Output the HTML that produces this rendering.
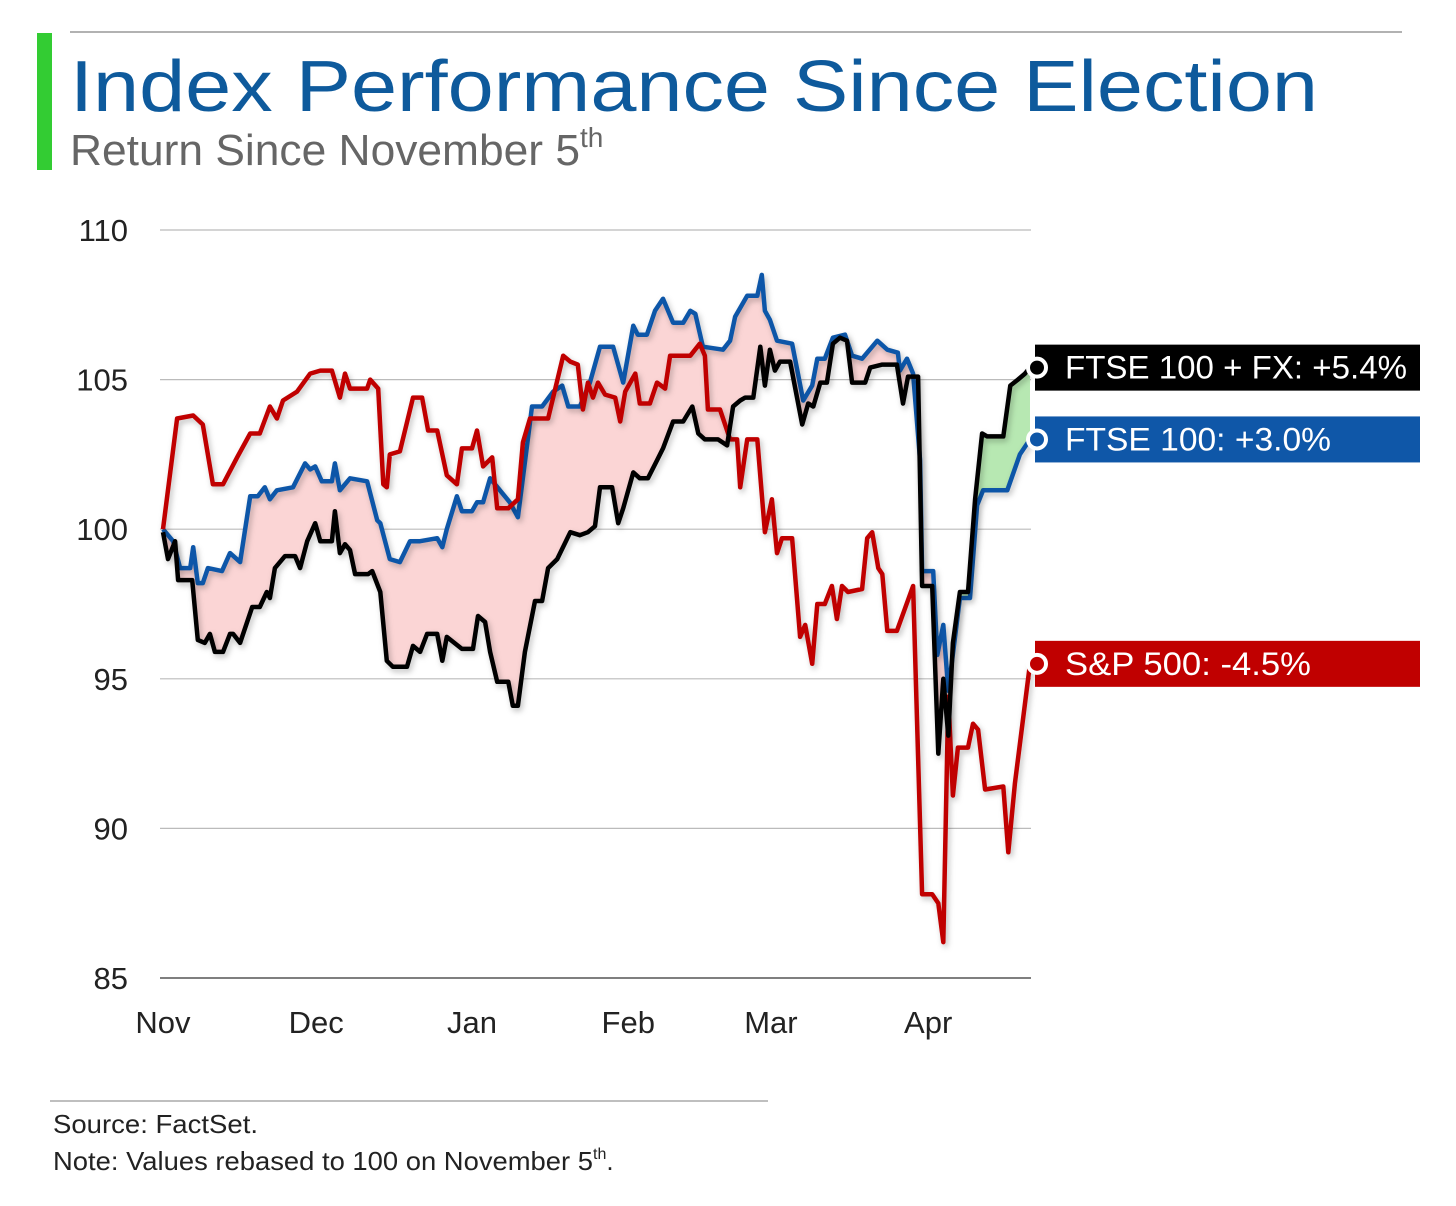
<!DOCTYPE html>
<html><head><meta charset="utf-8"><style>
html,body{margin:0;padding:0;background:#fff;width:1456px;height:1206px;overflow:hidden}
svg{display:block;font-family:"Liberation Sans",sans-serif}
</style></head><body>
<svg id="chart" width="1456" height="1206">
<defs>
<filter id="sh" x="-5%" y="-5%" width="110%" height="110%"><feDropShadow dx="2" dy="3" stdDeviation="3" flood-color="#000" flood-opacity="0.25"/></filter>
</defs>
<line x1="70" y1="32" x2="1402" y2="32" stroke="#999" stroke-width="1.5"/>
<rect x="37" y="33" width="15" height="137" fill="#33cc33"/>
<text x="70" y="111" font-size="72" fill="#0e5a9c" textLength="1248" lengthAdjust="spacingAndGlyphs">Index Performance Since Election</text>
<text x="70" y="165" font-size="44" fill="#666"><tspan textLength="510" lengthAdjust="spacingAndGlyphs">Return Since November 5</tspan><tspan font-size="28" dy="-18">th</tspan></text>
<g id="grid"></g>
<g id="fills"></g>
<g id="lines"></g>
<g id="labels"></g>
<line x1="50" y1="1101" x2="768" y2="1101" stroke="#aaa" stroke-width="1.5"/>
<text x="53" y="1133" font-size="26" fill="#222" textLength="205" lengthAdjust="spacingAndGlyphs">Source: FactSet.</text>
<text x="53" y="1170" font-size="26" fill="#222"><tspan textLength="540" lengthAdjust="spacingAndGlyphs">Note: Values rebased to 100 on November 5</tspan><tspan font-size="16" dy="-11">th</tspan><tspan dy="11">.</tspan></text>
</svg>
<script>
const yTicks=[85,90,95,100,105,110];
const monthLabels=["Nov","Dec","Jan","Feb","Mar","Apr"];
const monthDays=[0,30.4,61.3,92.3,120.6,151.8];
const spDays=[0,2.8,6,7.9,9.9,11.9,14.7,17.3,19.2,21.2,22.6,23.8,26.6,29.2,31.2,33.5,35.1,36.1,37.1,40.5,41.1,42.7,43.7,44.4,45,47,49.6,51.4,52.6,54.4,56.3,58.3,59.3,61.3,62.3,63.5,65.3,66.3,68.5,70.4,71.4,72.8,76.4,79.4,80.8,82.3,83.3,84.3,85.3,86.3,87.7,89.7,90.7,91.7,93.7,94.6,96.6,98,99.6,100.6,104.6,106.5,107.5,108.1,110.5,112.5,113.9,114.5,115.9,117.9,119.4,120.8,121.8,122.8,124.8,126.4,127.4,128.8,129.8,131.3,132.7,133.7,134.7,135.9,138.7,139.7,140.7,141.9,142.7,143.7,145.6,148.8,150.6,152.6,153.8,154.8,155.8,156.7,157.7,159.7,160.7,161.7,163.1,166.7,167.7,169,172];
const spValues=[100,103.7,103.8,103.5,101.5,101.5,102.4,103.2,103.2,104.1,103.7,104.3,104.6,105.2,105.3,105.3,104.4,105.2,104.7,104.7,105,104.7,101.5,101.4,102.5,102.6,104.4,104.4,103.3,103.3,101.8,101.5,102.7,102.7,103.3,102.1,102.4,100.7,100.7,101,102.9,103.7,103.7,105.8,105.6,105.5,104,104.9,104.4,104.9,104.5,104.4,103.6,104.6,105.2,104.2,104.2,104.9,104.7,105.8,105.8,106.2,105.8,104,104,103,103,101.4,103,103,99.9,101,99.2,99.7,99.7,96.4,96.8,95.5,97.5,97.5,98.1,97,98.1,97.9,98,99.7,99.9,98.7,98.5,96.6,96.6,98.1,87.8,87.8,87.5,86.2,94.4,91.1,92.7,92.7,93.5,93.3,91.3,91.4,89.2,91.5,95.5];
const ftseDays=[0,2,3.4,5.4,6,6.9,7.9,8.9,11.7,13.3,15.3,17.3,18.8,20.2,21.2,22.6,25.8,28.2,29.2,30.2,31.5,33.5,34.1,35.1,37.1,40.5,42.5,43.1,45,47,49,51,54.4,55.4,56.3,58.3,59.3,61.3,62.3,63.5,64.9,68.8,70.4,73.2,75.2,77.4,79.2,80.4,82.7,84.7,86.7,89.3,91.3,93.3,94.2,96,97.6,99.2,101.2,103.2,104.6,105.6,107.1,111.1,112.5,113.5,115.9,117.9,118.8,119.4,120.4,121.8,124.8,127,128.8,129.8,131.3,132.9,135.3,136.7,138.7,141.7,143.7,145.8,146.2,147.6,148.8,150.2,150.6,152.8,153.6,154.8,155.8,158.1,160.1,161.5,162.7,167.5,170,172];
const ftseValues=[100,99.6,98.7,98.7,99.4,98.2,98.2,98.7,98.6,99.2,98.9,101.1,101.1,101.4,101,101.3,101.4,102.2,102,102.1,101.6,101.6,102.2,101.3,101.7,101.6,100.3,100.2,99,98.9,99.6,99.6,99.7,99.4,100,101.1,100.6,100.6,100.9,100.9,101.7,100.9,100.4,104.1,104.1,104.6,104.8,104.1,104.1,104.9,106.1,106.1,104.9,106.8,106.5,106.5,107.3,107.7,106.9,106.9,107.3,107.2,106.1,106,106.3,107.1,107.8,107.8,108.5,107.3,107,106.3,106.2,104.3,104.8,105.7,105.7,106.4,106.5,105.8,105.7,106.3,106,105.9,105.3,105.7,105.2,102.3,98.6,98.6,95.8,96.8,94.6,97.7,97.7,100.8,101.3,101.3,102.5,103];
const fxDays=[0,1,2.4,3,5.8,6.9,8.3,9.3,10.3,11.9,13.3,13.9,15.3,17.7,19.2,20.6,21.2,22.2,24.2,26.2,27.2,28.6,30.2,31.2,33.5,34.1,35.1,36.1,37.1,38.1,40.7,41.5,43.1,44.4,45.6,48.4,49.6,51,52.4,54.4,55.4,56.3,59.3,61.5,62.5,63.9,64.9,66.3,68.5,69.4,70.4,71.8,73.8,75.2,76.4,78.2,80.8,82.7,84.3,85.7,86.7,89.1,90.3,91.3,93.3,94.6,96.2,98,99.2,101.2,103.2,105,106.2,107.5,110.1,111.9,113.1,114.5,115.5,117.1,118.5,119.4,120.4,121.4,122.4,124.4,126.8,128,129,130.4,131.7,132.9,134.3,135.7,136.7,139.3,140.3,142.7,145.6,146.8,147.8,149.8,150.6,152.6,153.8,154.8,155.8,156.7,158.1,159.7,161.1,162.5,163.5,166.7,168.1,169.6,171,172];
const fxValues=[99.9,99,99.6,98.3,98.3,96.3,96.2,96.5,95.9,95.9,96.5,96.5,96.2,97.4,97.4,97.9,97.7,98.7,99.1,99.1,98.7,99.6,100.2,99.6,99.6,100.6,99.2,99.5,99.3,98.5,98.5,98.6,97.9,95.6,95.4,95.4,96.1,95.9,96.5,96.5,95.6,96.4,96,96,97.1,96.9,95.9,94.9,94.9,94.1,94.1,95.9,97.6,97.6,98.7,99,99.9,99.8,99.9,100.1,101.4,101.4,100.2,100.7,101.9,101.7,101.7,102.3,102.7,103.6,103.6,104.1,103.2,103,103,102.8,104.1,104.3,104.4,104.4,106.1,104.8,106,105.3,105.6,105.6,103.5,104.2,104.1,104.9,104.9,106.2,106.4,106.3,104.9,104.9,105.4,105.5,105.5,104.2,105.1,105.1,98.1,98.1,92.5,95,93.1,96.2,97.9,97.9,101,103.2,103.1,103.1,104.8,105,105.2,105.4];
const legendNames=["FTSE 100 + FX: +5.4%","FTSE 100: +3.0%","S&P 500: -4.5%"];
const legendWidths=[342,266,246];

const NS="http://www.w3.org/2000/svg";
const X0=163,X1=1030,D1=172,Y0=978,Y1=230,V0=85,V1=110;
const xs=d=>X0+(d/D1)*(X1-X0);
const ys=v=>Y0-(v-V0)/(V1-V0)*(Y0-Y1);
function mk(tag,attrs,parent){const e=document.createElementNS(NS,tag);for(const k in attrs)e.setAttribute(k,attrs[k]);parent.appendChild(e);return e;}
const grid=document.getElementById('grid');
yTicks.forEach(t=>{
  const l=mk('line',{x1:160,x2:1031,y1:ys(t),y2:ys(t),stroke:t===85?'#555':'#bbb','stroke-width':t===85?1.5:1.2},grid);
  
  
  const tx=mk('text',{x:128,y:ys(t)+11,'font-size':31,'text-anchor':'end',fill:'#222'},grid);
  tx.textContent=t;
  
  
});
monthLabels.forEach((m,i)=>{
  const tx=mk('text',{x:xs(monthDays[i]),y:1033,'font-size':31,'text-anchor':'middle',fill:'#222'},grid);
  tx.textContent=m;
  
  
});
const pts=(ds,vs)=>ds.map((d,i)=>xs(d).toFixed(1)+','+ys(vs[i]).toFixed(1));
const fills=document.getElementById('fills');
const bluePts=pts(ftseDays,ftseValues);
const blackPts=pts(fxDays,fxValues);
const defs=document.querySelector('defs');
const cpB=mk('clipPath',{id:'belowBlue'},defs);
mk('polygon',{points:bluePts.join(' ')+' '+xs(D1)+','+Y0+' '+xs(0)+','+Y0},cpB);
const cpA=mk('clipPath',{id:'aboveBlue'},defs);
mk('polygon',{points:bluePts.join(' ')+' '+xs(D1)+','+Y1+' '+xs(0)+','+Y1},cpA);
const between=bluePts.join(' ')+' '+blackPts.slice().reverse().join(' ');
const pf=mk('polygon',{points:between,fill:'#fbd5d5','clip-path':'url(#belowBlue)'},fills);


const gf=mk('polygon',{points:between,fill:'#b7e8b2','clip-path':'url(#aboveBlue)'},fills);


const lines=document.getElementById('lines');
const series=[[ftseDays,ftseValues,'#0f57a8','ftse-100-line'],[spDays,spValues,'#c00000','sp-500-line'],[fxDays,fxValues,'#000','ftse-100-fx-line']];
series.forEach(s=>{
  const p=mk('polyline',{points:pts(s[0],s[1]).join(' '),fill:'none',stroke:s[2],'stroke-width':4.5,'stroke-linejoin':'round',filter:'url(#sh)'},lines);
  
  
});
const labels=document.getElementById('labels');
const ends=[[fxValues[fxValues.length-1],'#000'],[ftseValues[ftseValues.length-1],'#0f57a8'],[spValues[spValues.length-1],'#c00000']];
ends.forEach((e,i)=>{
  const y=ys(e[0]);
  const r=mk('rect',{x:1035,y:y-23,width:385,height:46,fill:e[1]},labels);
  
  
  const c=mk('circle',{cx:1037,cy:y,r:9,fill:e[1],stroke:'#fff','stroke-width':4},labels);
  
  
  const t=mk('text',{x:1065,y:y+11,'font-size':32,fill:'#fff',textLength:legendWidths[i],lengthAdjust:'spacingAndGlyphs'},labels);
  t.textContent=legendNames[i];
  
  
});
</script>
</body></html>
